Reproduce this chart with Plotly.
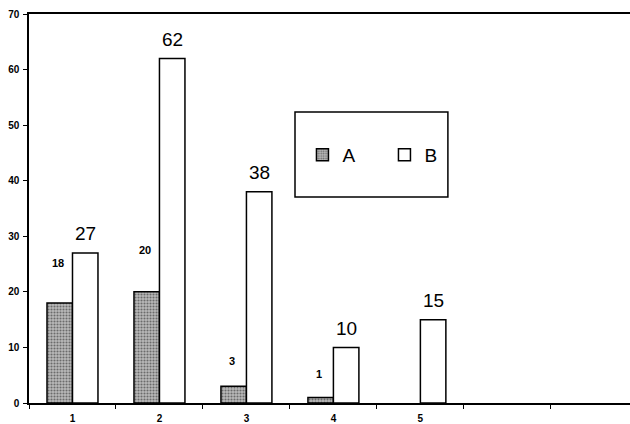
import plotly.graph_objects as go

# data
categories = ["1", "2", "3", "4", "5"]
empty_slots = [" ", "  "]  # two unused category slots on the right
series_a = [18, 20, 3, 1, None]
series_b = [27, 62, 38, 10, 15]

font_family = "Arial, Liberation Sans, sans-serif"

fig = go.Figure()

fig.add_trace(go.Bar(
    name="A",
    x=categories,
    y=series_a,
    marker=dict(
        color="rgb(110,110,110)",
        line=dict(color="black", width=1.5),
        pattern=dict(shape=".", fgcolor="rgb(30,30,30)", bgcolor="rgb(185,185,185)",
                     size=3, solidity=0.4),
    ),
))

fig.add_trace(go.Bar(
    name="B",
    x=categories,
    y=series_b,
    marker=dict(color="white", line=dict(color="black", width=1.5)),
))

# value labels: small bold ones for A, larger plain ones for B
# (annotations on a category axis are placed by category index)
for i, v in enumerate(series_a):
    if v is None:
        continue
    fig.add_annotation(x=i, y=v * 1.18 + 4, text=str(v), showarrow=False,
                       xshift=-14, yanchor="middle",
                       font=dict(family=font_family, size=11, color="black", weight="bold"))

for i, v in enumerate(series_b):
    fig.add_annotation(x=i, y=v, text=str(v), showarrow=False,
                       xshift=13, yshift=19, yanchor="middle",
                       font=dict(family=font_family, size=19, color="black"))

# legend frame
fig.add_shape(type="rect", xref="paper", yref="paper",
              x0=0.4426, x1=0.697, y0=0.5296, y1=0.748,
              line=dict(color="black", width=1.5), fillcolor="white", layer="below")

fig.update_layout(
    width=630,
    height=424,
    margin=dict(l=29, r=0, t=14, b=21, autoexpand=False),
    plot_bgcolor="white",
    paper_bgcolor="white",
    barmode="group",
    bargap=0.414,
    bargroupgap=0,
    font=dict(family=font_family, color="black"),
    showlegend=True,
    legend=dict(
        orientation="h",
        x=0.455, y=0.6375,
        xanchor="left", yanchor="middle",
        bgcolor="rgba(0,0,0,0)",
        borderwidth=0,
        font=dict(family=font_family, size=19, color="black"),
        entrywidth=37,
        entrywidthmode="pixels",
        itemwidth=30,
    ),
    xaxis=dict(
        type="category",
        categoryorder="array",
        categoryarray=categories + empty_slots,
        range=[-0.5, 6.41],
        automargin=False,
        showline=True, linecolor="black", linewidth=1.5,
        mirror=True,
        ticks="outside", ticklen=4, tickcolor="black", tickwidth=1,
        tickson="boundaries",
        ticklabelstandoff=5,
        showgrid=False,
        tickfont=dict(family=font_family, size=10, color="black", weight="bold"),
    ),
    yaxis=dict(
        range=[0, 70],
        dtick=10,
        automargin=False,
        showline=True, linecolor="black", linewidth=1.5,
        ticks="outside", ticklen=4, tickcolor="black",
        ticklabelstandoff=2,
        showgrid=False,
        zeroline=False,
        tickfont=dict(family=font_family, size=10, color="black", weight="bold"),
    ),
)

# drop the default page margin so the figure sits at the window's corner
fig.write_html("out.html", config={"displayModeBar": False},
               post_script="document.body.style.margin='0';")
